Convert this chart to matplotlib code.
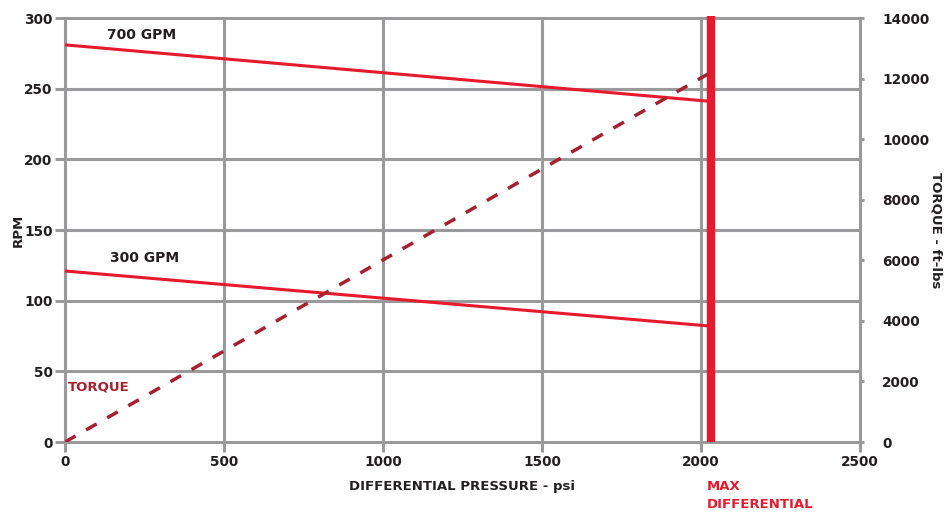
import matplotlib.pyplot as plt

plt.rcParams['font.family'] = ['DejaVu Sans']
plt.rcParams['font.weight'] = 'bold'

# Data
pressure_700 = [0, 2030]
rpm_700 = [281, 241]
pressure_300 = [0, 2030]
rpm_300 = [121, 82]
pressure_torque = [0, 2030]
torque = [0, 12200]
max_differential = 2030

x_ticks = [0, 500, 1000, 1500, 2000, 2500]
rpm_ticks = [0, 50, 100, 150, 200, 250, 300]
torque_ticks = [0, 2000, 4000, 6000, 8000, 10000, 12000, 14000]

red = '#E8192C'
dark_red = '#A8202E'
grid_gray = '#9A9A9C'
text_col = '#231F20'

fig = plt.figure(figsize=(9.45, 5.12), dpi=100)
ax = fig.add_axes([65/945, 70/512, 795/945, 424/512])
ax2 = ax.twinx()

ax.set_xlim(0, 2500)
ax.set_ylim(0, 300)
ax2.set_ylim(0, 14000)
ax.set_xticks(x_ticks)
ax.set_yticks(rpm_ticks)
ax2.set_yticks(torque_ticks)

for a in (ax, ax2):
    for s in a.spines.values():
        s.set_visible(False)
ax.grid(True, color=grid_gray, linewidth=2.2, zorder=0)
for gl in ax.get_xgridlines() + ax.get_ygridlines():
    gl.set_clip_on(False)
ax.set_axisbelow(True)
ax.tick_params(axis='both', length=7, width=2.2, color=grid_gray,
               labelsize=9.8, labelcolor=text_col, pad=2)
ax2.tick_params(axis='y', length=3, width=2.2, color=grid_gray,
                labelsize=9.8, labelcolor=text_col, pad=13)
for lbl in ax.get_xticklabels() + ax.get_yticklabels() + ax2.get_yticklabels():
    lbl.set_fontweight('bold')

# Lines
ax.plot(pressure_700, rpm_700, color=red, linewidth=2.2, zorder=3)
ax.plot(pressure_300, rpm_300, color=red, linewidth=2.2, zorder=3)
ax2.plot(pressure_torque, torque, color=dark_red, linewidth=2.5,
         linestyle=(0, (3.5, 3.5)), zorder=3)
ax.plot([max_differential, max_differential], [0, 301.5], color=red,
        linewidth=6, solid_capstyle='butt', clip_on=False, zorder=4)

# Labels
ax.text(132, 288, '700 GPM', fontsize=10, fontweight='bold', color=text_col,
        ha='left', va='center')
ax.text(142, 130, '300 GPM', fontsize=10, fontweight='bold', color=text_col,
        ha='left', va='center')
ax.text(8, 39, 'TORQUE', fontsize=9.5, fontweight='bold', color=dark_red,
        ha='left', va='center')

ax.set_xlabel('DIFFERENTIAL PRESSURE - psi', fontsize=9.5, fontweight='bold',
              color=text_col, labelpad=8)
fig.text(18/945, 1 - 230/512, 'RPM', fontsize=9.5, fontweight='bold',
         color=text_col, rotation=90, ha='center', va='center')
fig.text(936/945, 1 - 230/512, 'TORQUE - ft-lbs', fontsize=9.5,
         fontweight='bold', color=text_col, rotation=270, ha='center',
         va='center')

fig.text(707/945, 1 - 496/512, 'MAX\nDIFFERENTIAL', fontsize=9.5,
         fontweight='bold', color=red, ha='left', va='center', linespacing=1.5)

plt.savefig('out.png', dpi=100)
